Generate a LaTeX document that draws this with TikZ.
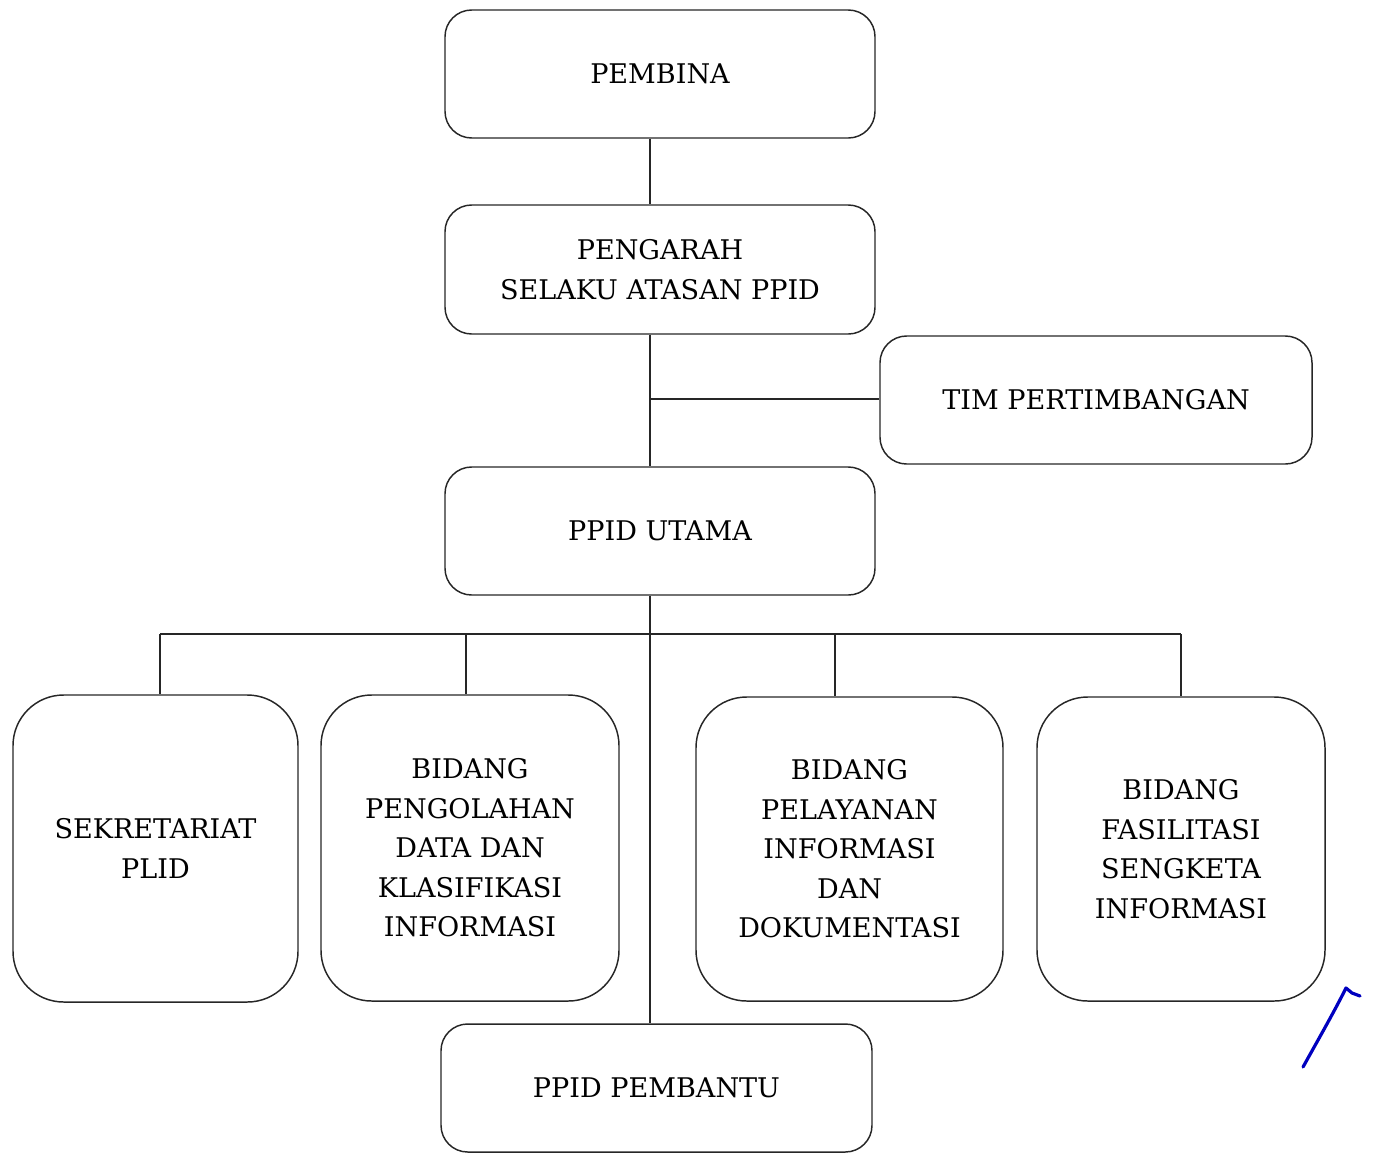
\documentclass[tikz,border=0pt]{standalone}
\usepackage{fontspec}
\setmainfont{DejaVu Serif}
\begin{document}
\begin{tikzpicture}[x=0.75pt,y=-0.75pt,
  box/.style={draw=black!85, line width=1.1pt, rounded corners=20pt, align=center, inner sep=0pt,
    font=\fontsize{20.3}{29.6}\selectfont},
  bigbox/.style={box, rounded corners=38pt},
  conn/.style={draw=black!85, line width=1.1pt}]
\useasboundingbox (0,0) rectangle (1373,1153);
\node[box, minimum width=322.5pt, minimum height=96pt] (pembina) at (660,74) {PEMBINA};
\node[box, minimum width=322.5pt, minimum height=96.75pt] (pengarah) at (660,269.5) {PENGARAH\\SELAKU ATASAN PPID};
\node[box, minimum width=324pt, minimum height=96pt] (tim) at (1096,400) {TIM PERTIMBANGAN};
\node[box, minimum width=322.5pt, minimum height=96pt] (utama) at (660,531) {PPID UTAMA};
\node[bigbox, minimum width=213.75pt, minimum height=230.25pt] (sek) at (155.5,848.5) {SEKRETARIAT\\PLID};
\node[bigbox, minimum width=223.5pt, minimum height=229.5pt] (peng) at (470,848) {BIDANG\\PENGOLAHAN\\DATA DAN\\KLASIFIKASI\\INFORMASI};
\node[bigbox, minimum width=230.25pt, minimum height=228pt] (pel) at (849.5,849) {BIDANG\\PELAYANAN\\INFORMASI\\DAN\\DOKUMENTASI};
\node[bigbox, minimum width=216pt, minimum height=228pt] (fas) at (1181,849) {BIDANG\\FASILITASI\\SENGKETA\\INFORMASI};
\node[box, minimum width=323.25pt, minimum height=96pt] (pembantu) at (656.5,1088) {PPID PEMBANTU};

\coordinate (trunk) at (650,0);
\coordinate (timjoin) at (650,399);
\coordinate (busL) at (160,634);
\coordinate (busR) at (1181,634);
\coordinate (drop2) at (466,634);
\coordinate (drop3) at (835,634);

\draw[conn] (pembina.south -| trunk) -- (pengarah.north -| trunk);
\draw[conn] (pengarah.south -| trunk) -- (utama.north -| trunk);
\draw[conn] (timjoin) -- (tim.west |- timjoin);
\draw[conn] (utama.south -| trunk) -- (pembantu.north -| trunk);
\draw[conn] (busL) -- (busR);
\draw[conn] (busL) -- (sek.north -| busL);
\draw[conn] (drop2) -- (peng.north -| drop2);
\draw[conn] (drop3) -- (pel.north -| drop3);
\draw[conn] (busR) -- (fas.north -| busR);

\draw[blue!75!black, line width=2.4pt, line cap=round, line join=round]
  (1303,1067) .. controls (1318,1040) and (1334,1012) .. (1346,988)
  -- (1352,993) -- (1360,996);
\end{tikzpicture}
\end{document}
